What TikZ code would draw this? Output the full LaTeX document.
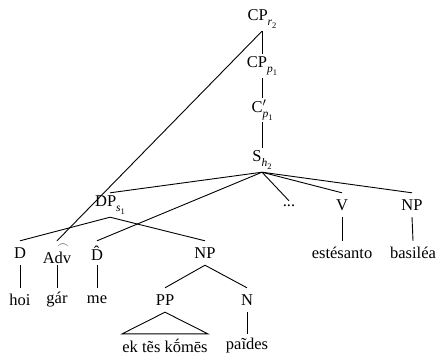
\documentclass[tikz,border=0pt]{standalone}
\usepackage{amsmath}
\usepackage{fontspec}
\setmainfont{Liberation Serif}
\usepackage{tikz}
% italic index with an upright number below it
\newcommand\lsub[2]{\raisebox{-0.3em}{\fontsize{11.5}{12}\selectfont\textit{#1}\raisebox{-0.22em}{\fontsize{8.5}{9}\selectfont #2}}}
\tikzset{
  cat/.style={inner sep=0pt,minimum height=24pt,font=\fontsize{16.5}{19}\selectfont},
  dotcat/.style={cat,minimum height=10pt},
  edge/.style={draw=black,line width=0.9pt},
}

\begin{document}
\begin{tikzpicture}[x=1pt,y=-1pt]
\useasboundingbox (0,0) rectangle (438,357);
% spine
\node[cat] (cpr) at (262,19) {CP\lsub{r}{2}};
\node[cat] (cpp) at (262,66) {CP\lsub{p}{1}};
\node[cat] (cbar) at (262,110) {C\rlap{$'$}\lsub{p}{1}};
\node[cat] (s) at (262,160) {S\lsub{h}{2}};
\draw[edge] (cpr.south) -- (cpp.north);
\draw[edge] (cpp.south) -- (cbar.north);
\draw[edge] (cbar.south) -- (s.north);
% daughters of S
\node[cat] (dp) at (110,205) {DP\lsub{s}{1}};
\node[dotcat] (dots) at (289,206) {...};
\node[cat] (v) at (342,205) {V};
\node[cat] (np2) at (412,205) {NP};
\node[cat] (d) at (20,253) {D};
\node[cat] (adv) at (57,253) {A$\overset{\frown}{\text{dv}}$};
\node[cat] (dhat) at (97,253) {D̂};
\node[cat] (np) at (205,253) {NP};
\node[cat] (est) at (342,253) {estésanto};
\node[cat] (bas) at (413,253) {basiléa};
\draw[edge] (s.south) -- (dp.north);
\draw[edge] (s.south) -- (dhat.north);
\draw[edge] (s.south) -- (dots.north);
\draw[edge] (s.south) -- (v.north);
\draw[edge] (s.south) -- (np2.north);
\draw[edge] (cpr.south) -- (adv.north);
\draw[edge] (dp.south) -- (d.north);
\draw[edge] (dp.south) -- (np.north);
\draw[edge] (v.south) -- (est.north);
\draw[edge] (np2.south) -- (bas.north);
% leaves
\node[cat] (hoi) at (20,300) {hoi};
\node[cat] (gar) at (57,300) {gár};
\node[cat] (me) at (97,300) {me};
\node[cat] (pp) at (165,300) {PP};
\node[cat] (n) at (247,300) {N};
\node[cat] (ek) at (165,346) {ek tẽs kṓmēs};
\node[cat] (paides) at (247,346) {paĩdes};
\draw[edge] (d.south) -- (hoi.north);
\draw[edge] (adv.south) -- (gar.north);
\draw[edge] (dhat.south) -- (me.north);
\draw[edge] (np.south) -- (pp.north);
\draw[edge] (np.south) -- (n.north);
\draw[edge] (pp.south) -- (ek.north west) -- (ek.north east) -- cycle;
\draw[edge] (n.south) -- (paides.north);
\end{tikzpicture}
\end{document}
